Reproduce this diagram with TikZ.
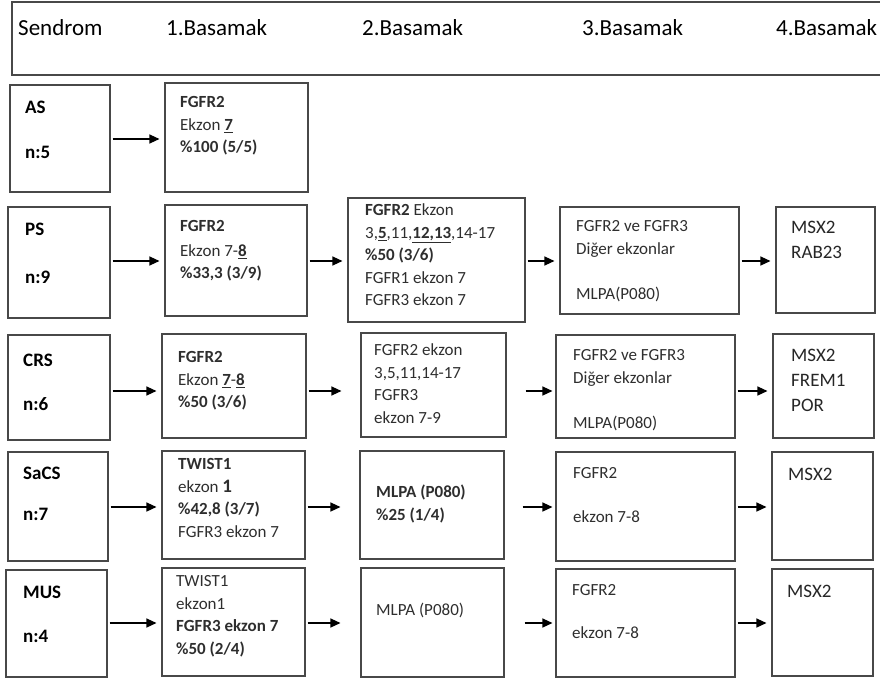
\documentclass[tikz,border=0pt]{standalone}
\usepackage{fontspec}
\setmainfont{Carlito}
\usetikzlibrary{arrows.meta,fit}
\setlength{\parindent}{0pt}
\definecolor{boxline}{HTML}{484848}
\definecolor{txtgray}{HTML}{2E2E2E}

\begin{document}
\begin{tikzpicture}[x=1pt, y=-1pt,
	box/.style={draw=boxline, line width=1.1pt, inner sep=0pt},
	txt/.style={anchor=north west, inner sep=0pt, text width=150pt, align=flush left, text=txtgray, font=\fontsize{17}{22.5}\selectfont, execute at begin node={\spaceskip=0pt\xspaceskip=0pt\strut}},
	synd/.style={txt, text=black, font=\fontsize{19}{22}\selectfont\bfseries},
	gene/.style={txt, text=black!85, font=\fontsize{19}{25}\selectfont},
	head/.style={anchor=west, inner sep=0pt, font=\fontsize{23}{27}\selectfont},
	arr/.style={-{Triangle[length=10pt,width=9pt]}, line width=1.3pt, shorten <=2pt, shorten >=5pt}]
	\useasboundingbox (0,0) rectangle (880,679);

	% header row
	\node[box, fit={(12,2) (886,75)}] (hdr) {};
	\node[head] (h0) at (18,28) {Sendrom};
	\node[head] (h1) at (166,28) {1.Basamak};
	\node[head] (h2) at (362,28) {2.Basamak};
	\node[head] (h3) at (582,28) {3.Basamak};
	\node[head] (h4) at (776,28) {4.Basamak};

	% arrow levels
	\coordinate (r1) at (0,139);
	\coordinate (r2) at (0,261);
	\coordinate (r3) at (0,391);
	\coordinate (r4) at (0,507);
	\coordinate (r5) at (0,623);

	% AS
	\node[box, fit={(10,85) (110,192)}] (as) {};
	\node[box, fit={(165,83) (308,192)}] (as1) {};
	\node[synd] (as-t) at (25,98) {AS\\[23pt]n:5};
	\node[txt] (as1-t) at (180,92) {\textbf{FGFR2}\\Ekzon \underline{\textbf{7}}\\\textbf{\%100 (5/5)}};
	\draw[arr] (as.east |- r1) -- (as1.west |- r1);

	% PS
	\node[box, fit={(8,207) (110,318)}] (ps) {};
	\node[box, fit={(165,205) (307,316)}] (ps1) {};
	\node[box, fit={(348,198) (525,322)}] (ps2) {};
	\node[box, fit={(560,207) (739,314)}] (ps3) {};
	\node[box, fit={(776,207) (875,313)}] (ps4) {};
	\node[synd] (ps-t) at (25,220) {PS\\[26pt]n:9};
	\node[txt] (ps1-t) at (180,216) {\textbf{FGFR2}\\[2pt]Ekzon 7-\underline{\textbf{8}}\\\textbf{\%33,3 (3/9)}};
	\node[txt] (ps2-t) at (365,200) {\textbf{FGFR2} Ekzon\\3,\underline{\textbf{5}},11,\underline{\textbf{12,13}},14-17\\\textbf{\%50 (3/6)}\\FGFR1 ekzon 7\\FGFR3 ekzon 7};
	\node[txt] (ps3-t) at (576,216) {FGFR2 ve FGFR3\\Diğer ekzonlar\\[22.5pt]MLPA(P080)};
	\node[gene] (ps4-t) at (791,216) {MSX2\\RAB23};
	\draw[arr] (ps.east |- r2) -- (ps1.west |- r2);
	\draw[arr] (ps1.east |- r2) -- (ps2.west |- r2);
	\draw[arr] (ps2.east |- r2) -- (ps3.west |- r2);
	\draw[arr] (ps3.east |- r2) -- (ps4.west |- r2);

	% CRS
	\node[box, fit={(8,335) (110,440)}] (crs) {};
	\node[box, fit={(162,334) (306,438)}] (crs1) {};
	\node[box, fit={(361,333) (506,437)}] (crs2) {};
	\node[box, fit={(556,335) (735,438)}] (crs3) {};
	\node[box, fit={(773,334) (874,438)}] (crs4) {};
	\node[synd] (crs-t) at (23,351) {CRS\\[22pt]n:6};
	\node[txt] (crs1-t) at (178,347) {\textbf{FGFR2}\\Ekzon \underline{\textbf{7}}-\underline{\textbf{8}}\\\textbf{\%50 (3/6)}};
	\node[txt] (crs2-t) at (374,340) {FGFR2 ekzon\\3,5,11,14-17\\FGFR3\\ekzon 7-9};
	\node[txt] (crs3-t) at (573,345) {FGFR2 ve FGFR3\\Diğer ekzonlar\\[22.5pt]MLPA(P080)};
	\node[gene] (crs4-t) at (791,344) {MSX2\\FREM1\\POR};
	\draw[arr] (crs.east |- r3) -- (crs1.west |- r3);
	\draw[arr, shorten >=19pt] (crs1.east |- r3) -- (crs2.west |- r3);
	\draw[arr, shorten <=19pt, shorten >=3pt] (crs2.east |- r3) -- (crs3.west |- r3);
	\draw[arr] (crs3.east |- r3) -- (crs4.west |- r3);

	% SaCS
	\node[box, fit={(8,452) (108,561)}] (sacs) {};
	\node[box, fit={(162,451) (305,559)}] (sacs1) {};
	\node[box, fit={(360,451) (504,559)}] (sacs2) {};
	\node[box, fit={(556,452) (735,561)}] (sacs3) {};
	\node[box, fit={(772,452) (873,560)}] (sacs4) {};
	\node[synd] (sacs-t) at (23,464) {SaCS\\[19pt]n:7};
	\node[txt] (sacs1-t) at (178,454) {\textbf{TWIST1}\\ekzon {\fontsize{19}{22.5}\selectfont\bfseries 1}\\\textbf{\%42,8 (3/7)}\\FGFR3 ekzon 7};
	\node[txt] (sacs2-t) at (376,482) {\textbf{MLPA (P080)}\\\textbf{\%25 (1/4)}};
	\node[txt] (sacs3-t) at (573,463) {FGFR2\\[21.5pt]ekzon 7-8};
	\node[gene] (sacs4-t) at (788,463) {MSX2};
	\draw[arr] (sacs.east |- r4) -- (sacs1.west |- r4);
	\draw[arr, shorten >=19pt] (sacs1.east |- r4) -- (sacs2.west |- r4);
	\draw[arr, shorten <=18pt, shorten >=3pt] (sacs2.east |- r4) -- (sacs3.west |- r4);
	\draw[arr] (sacs3.east |- r4) -- (sacs4.west |- r4);

	% MUS
	\node[box, fit={(6,570) (107,677)}] (mus) {};
	\node[box, fit={(162,568) (305,676)}] (mus1) {};
	\node[box, fit={(361,568) (504,677)}] (mus2) {};
	\node[box, fit={(556,569) (735,677)}] (mus3) {};
	\node[box, fit={(772,569) (873,676)}] (mus4) {};
	\node[synd] (mus-t) at (23,583) {MUS\\[22pt]n:4};
	\node[txt] (mus1-t) at (176,571) {TWIST1\\ekzon1\\\textbf{FGFR3 ekzon 7}\\\textbf{\%50 (2/4)}};
	\node[txt] (mus2-t) at (376,600) {MLPA (P080)};
	\node[txt] (mus3-t) at (572,580) {FGFR2\\[20.5pt]ekzon 7-8};
	\node[gene] (mus4-t) at (787,580) {MSX2};
	\draw[arr] (mus.east |- r5) -- (mus1.west |- r5);
	\draw[arr, shorten >=20pt] (mus1.east |- r5) -- (mus2.west |- r5);
	\draw[arr, shorten <=20pt, shorten >=3pt] (mus2.east |- r5) -- (mus3.west |- r5);
	\draw[arr] (mus3.east |- r5) -- (mus4.west |- r5);
\end{tikzpicture}
\end{document}
